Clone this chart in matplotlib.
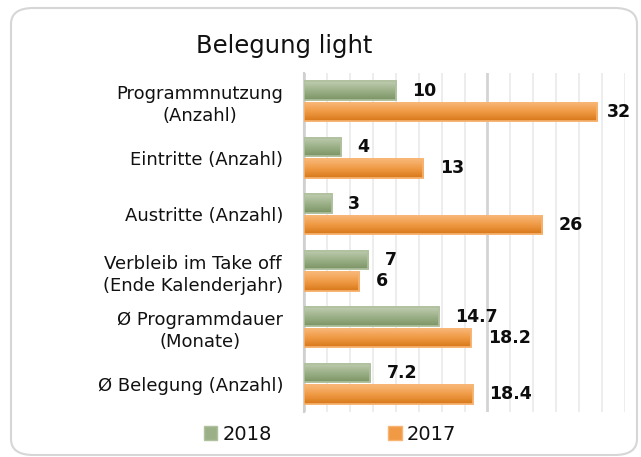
import matplotlib
matplotlib.use("Agg")
import matplotlib.pyplot as plt
import numpy as np
from matplotlib.patches import FancyBboxPatch, Patch
from matplotlib.colors import LinearSegmentedColormap
from matplotlib.ticker import MultipleLocator

categories = ["Programmnutzung\n(Anzahl)", "Eintritte (Anzahl)", "Austritte (Anzahl)",
              "Verbleib im Take off\n(Ende Kalenderjahr)", "Ø Programmdauer\n(Monate)",
              "Ø Belegung (Anzahl)"]
values_2018 = [10, 4, 3, 7, 14.7, 7.2]
values_2017 = [32, 13, 26, 6, 18.2, 18.4]
labels_2018 = ["10", "4", "3", "7", "14.7", "7.2"]
labels_2017 = ["32", "13", "26", "6", "18.2", "18.4"]
series_names = ["2018", "2017"]

plt.rcParams['font.family'] = ['DejaVu Sans']

W, H = 641, 457
fig = plt.figure(figsize=(W / 100, H / 100), dpi=100)
fig.patch.set_facecolor("white")

frame = FancyBboxPatch((11 / W, 1 - 455 / H), (637 - 11) / W, (455 - 8) / H,
                       boxstyle="round,pad=0,rounding_size=0.035",
                       transform=fig.transFigure, facecolor="none",
                       edgecolor="#d6d6d6", linewidth=1.5, zorder=-5)
fig.patches.append(frame)

ax = fig.add_axes([304 / W, 1 - 412 / H, (625 - 304) / W, (412 - 73) / H])
ax.set_facecolor("none")

y = np.arange(len(categories))
h = 0.33
off = 0.19

green_cmap = LinearSegmentedColormap.from_list("g", ["#bfcdb1", "#9cb088", "#7c9565"])
orange_cmap = LinearSegmentedColormap.from_list("o", ["#f8b878", "#f09a45", "#d8781a"])

bars18 = ax.barh(y - off, values_2018, height=h, color="#9cb088", edgecolor="#b0c19e",
                 linewidth=1.2, zorder=3)
bars17 = ax.barh(y + off, values_2017, height=h, color="#f09a45", edgecolor="#f7b472",
                 linewidth=1.2, zorder=3)

grad = np.linspace(0, 1, 64).reshape(-1, 1)
for bars, cmap in ((bars18, green_cmap), (bars17, orange_cmap)):
    for b in bars:
        x0, yb = b.get_x(), b.get_y()
        x1, yt = x0 + b.get_width(), yb + b.get_height()
        im = ax.imshow(grad, cmap=cmap, aspect="auto", origin="upper",
                       extent=(x0, x1, yt, yb), zorder=3.5)
        im.set_clip_path(b)
    for b in bars:
        b2 = plt.Rectangle((b.get_x(), b.get_y()), b.get_width(), b.get_height(),
                           fill=False, edgecolor=b.get_edgecolor(), linewidth=1.2, zorder=4)
        ax.add_patch(b2)

ax.set_xlim(0, 35)
ax.set_ylim(len(categories) - 0.5, -0.5)

# gridlines
ax.xaxis.set_minor_locator(MultipleLocator(2.5))
ax.xaxis.set_major_locator(MultipleLocator(20))
ax.grid(axis="x", which="minor", color="#ececec", linewidth=1.3, zorder=0)
ax.grid(axis="x", which="major", color="#d4d4d4", linewidth=2.0, zorder=0)
ax.set_axisbelow(True)
ax.tick_params(axis="x", which="both", length=0, labelbottom=False)

ax.set_yticks(y)
ax.set_yticklabels(categories, fontsize=13, color="#111111", linespacing=1.3)
for t in ax.get_yticklabels():
    t.set_multialignment("center")
ax.tick_params(axis="y", length=0, pad=15)

for s in ["top", "right", "bottom"]:
    ax.spines[s].set_visible(False)
ax.spines["left"].set_color("#d0d0d0")
ax.spines["left"].set_linewidth(1.5)

xmax = ax.get_xlim()[1]
for vals, labs, pos in ((values_2018, labels_2018, y - off), (values_2017, labels_2017, y + off)):
    for v, lab, p in zip(vals, labs, pos):
        dx = 7 if v > 0.85 * xmax else 12
        ax.annotate(lab, (v, p), xytext=(dx, 0), textcoords="offset points",
                    ha="left", va="center", fontsize=12.5, fontweight="bold",
                    color="#0d0d0d", annotation_clip=False, zorder=5)

fig.text(284 / W, 1 - 46 / H, "Belegung light", ha="center", va="center",
         fontsize=17.5, color="#111111")

handles = [Patch(facecolor="#9cb088", edgecolor="#b0c19e"),
           Patch(facecolor="#f09a45", edgecolor="#f7b472")]
fig.legend(handles, series_names, loc="center", bbox_to_anchor=(330 / W, 1 - 434 / H),
           ncol=2, frameon=False, fontsize=14, handlelength=0.7, handleheight=0.7,
           handletextpad=0.25, columnspacing=6.0, labelcolor="#111111")

fig.savefig("out.png", dpi=100, facecolor="white")
